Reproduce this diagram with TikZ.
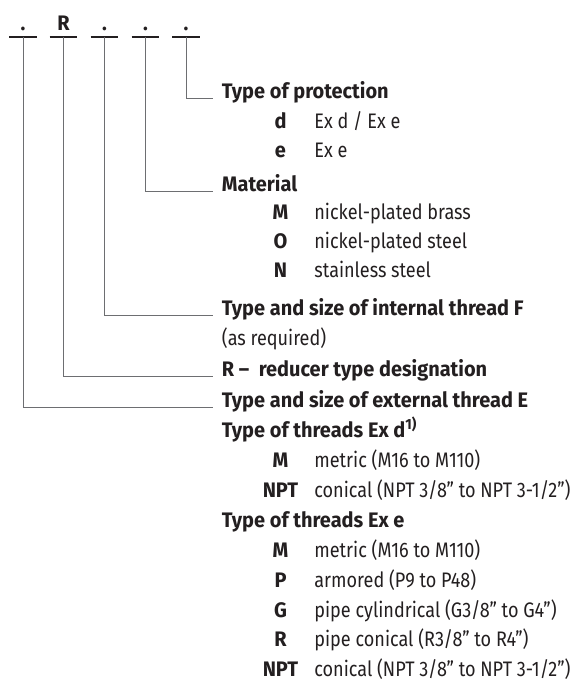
\documentclass[tikz,border=0pt]{standalone}
\usepackage{fontspec}
\setmainfont{Fira Sans}[FakeStretch=0.86, BoldFont={Fira Sans Bold}, BoldFeatures={FakeStretch=0.95}]
\usepackage{tikz}
\usetikzlibrary{positioning}
\definecolor{ink}{HTML}{231F20}
\definecolor{leadgray}{HTML}{6D6E71}

\begin{document}
\begin{tikzpicture}
    [x=0.5pt, y=-0.5pt,
    every node/.style={inner sep=0pt, text=ink, font=\fontsize{10.5pt}{12pt}\selectfont},
    slot/.style={anchor=south, minimum width=13.5pt, inner ysep=3pt, text depth=0pt,
    font=\fontsize{10.5pt}{12pt}\selectfont\bfseries},
    bar/.style={draw=ink, line width=1pt},
    link/.style={draw=leadgray, line width=0.5pt},
    heading/.style={anchor=base west, font=\fontsize{10.5pt}{12pt}\selectfont\bfseries},
    key/.style={anchor=base, font=\fontsize{10.5pt}{12pt}\selectfont\bfseries},
    entry/.style={anchor=base west}]
    \useasboundingbox (0,0) rectangle (578,689);

    \foreach \i/\x/\t in {1/23/., 2/63.5/R, 3/104.5/., 4/145.5/., 5/186/.} {
      \node [slot] (s\i) at (\x,36.7) {\t};
      \draw [bar] (s\i.south west) -- (s\i.south east);
    }

    \node [heading] (protection) at (221.5,98.5) {Type of protection};
    \node [heading] (material) at (221.5,191.5) {Material};
    \node [heading] (internal) at (221.5,315) {Type and size of internal thread F};
    \node [entry] (as_required) at (221.5,345) {(as required)};
    \node [heading] (reducer) at (221.5,376.5) {R –\ \ reducer type designation};
    \node [heading] (external) at (221.5,407.5) {Type and size of external thread E};
    \node [heading] (threads_exd) at (221.5,437) {Type of threads Ex d\textsuperscript{1)}};
    \node [heading] (threads_exe) at (221.5,527) {Type of threads Ex e};

    \foreach \k/\txt/\y [count=\n] in {d/{Ex d / Ex e}/128.5, e/{Ex e}/158,
      M/{nickel-plated brass}/219.5, O/{nickel-plated steel}/249, N/{stainless steel}/278,
      M/{metric (M16 to M110)}/467, NPT/{conical (NPT 3/8” to NPT 3-1/2”)}/497,
      M/{metric (M16 to M110)}/557.5, P/{armored (P9 to P48)}/587,
      G/{pipe cylindrical (G3/8” to G4”)}/617, R/{pipe conical (R3/8” to R4”)}/646.5,
      NPT/{conical (NPT 3/8” to NPT 3-1/2”)}/676} {
      \node [key] (k\n) at (280.5,\y) {\k};
      \node [entry] (v\n) at (314,\y) {\txt};
    }

    \draw [link] (s5.south) |- ([xshift=-4.2pt]protection.base west);
    \draw [link] (s4.south) |- ([xshift=-4.2pt]material.base west);
    \draw [link] (s3.south) |- ([xshift=-4.2pt]internal.base west);
    \draw [link] (s2.south) |- ([xshift=-4.2pt]reducer.base west);
    \draw [link] (s1.south) |- ([xshift=-4.2pt]external.base west);
  \end{tikzpicture}
\end{document}
